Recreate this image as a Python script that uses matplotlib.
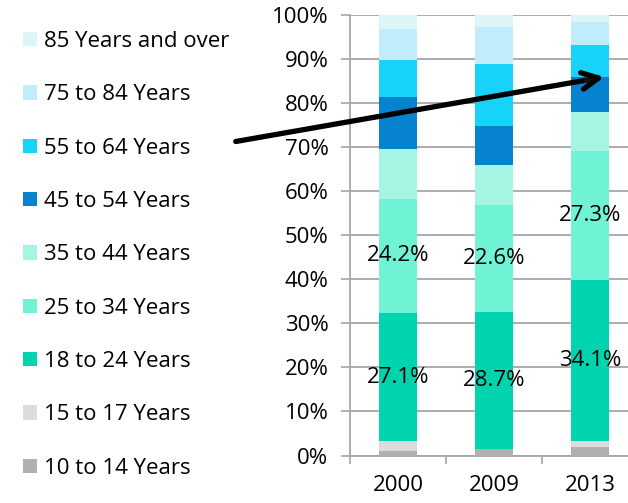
import matplotlib
matplotlib.use("Agg")
import matplotlib.pyplot as plt
import matplotlib.patheffects as pe
from matplotlib.patches import Patch, FancyArrowPatch
import numpy as np

plt.rcParams["font.family"] = ["Open Sans", "DejaVu Sans"]

# Share of each age group per survey year (percent)
years = ["2000", "2009", "2013"]
age_groups = [
    "10 to 14 Years",
    "15 to 17 Years",
    "18 to 24 Years",
    "25 to 34 Years",
    "35 to 44 Years",
    "45 to 54 Years",
    "55 to 64 Years",
    "75 to 84 Years",
    "85 Years and over",
]
age_10_14 = [1.0, 1.3, 1.9]
age_15_17 = [2.0, 0.1, 1.2]
age_18_24 = [27.1, 28.7, 34.1]
age_25_34 = [24.2, 22.6, 27.3]
age_35_44 = [10.4, 8.3, 8.2]
age_45_54 = [11.0, 8.2, 7.3]
age_55_64 = [7.9, 13.1, 6.9]
age_75_84 = [6.5, 7.6, 4.9]
age_85_up = [3.0, 2.6, 1.4]
series = [age_10_14, age_15_17, age_18_24, age_25_34, age_35_44,
          age_45_54, age_55_64, age_75_84, age_85_up]
colors = ["#b0b0b0", "#dcdcdc", "#00d4ae", "#6ff3d4", "#a6f5e3",
          "#0682ce", "#17d3f9", "#c1ecfb", "#def5f8"]
labelled = {"18 to 24 Years", "25 to 34 Years"}

y_ticks = [0, 10, 20, 30, 40, 50, 60, 70, 80, 90, 100]
y_tick_labels = ["0%", "10%", "20%", "30%", "40%", "50%", "60%",
                 "70%", "80%", "90%", "100%"]

FS = 16
W, H = 628, 503
fig = plt.figure(figsize=(W / 100, H / 100), dpi=100)
ax = fig.add_axes([350 / W, 1 - 455.5 / H, 288 / W, 440.5 / H])

values = np.array(series, dtype=float)
shares = values / values.sum(axis=0) * 100  # 100% stacked
x = np.arange(len(years))
bottom = np.zeros(len(years))
handles = []
for name, raw, share, col in zip(age_groups, values, shares, colors):
    ax.bar(x, share, 0.4, bottom=bottom, color=col, linewidth=0, zorder=3)
    handles.append(Patch(facecolor=col, label=name))
    if name in labelled:
        for xi, b, s, v in zip(x, bottom, share, raw):
            ax.text(xi, b + s / 2, f"{v:.1f}%", ha="center", va="center",
                    fontsize=FS, color="black", zorder=5)
    bottom += share

ax.set_xlim(-0.5, 2.5)
ax.set_ylim(0, 100)
ax.set_yticks(y_ticks)
ax.set_yticklabels(y_tick_labels, fontsize=FS)
ax.set_xticks(x)
ax.set_xticklabels(years, fontsize=FS)
ax.set_xticks([-0.5, 0.5, 1.5, 2.5], minor=True)
ax.tick_params(axis="x", which="major", length=0, pad=14)
ax.tick_params(axis="x", which="minor", length=6, width=1.2, color="#a6a6a6")
ax.tick_params(axis="y", length=6.5, width=1.2, color="#a6a6a6", pad=9)
ax.grid(axis="y", color="#a6a6a6", linewidth=1.3, zorder=0)
for side in ("top", "right"):
    ax.spines[side].set_visible(False)
for side in ("left", "bottom"):
    ax.spines[side].set_color("#a6a6a6")
    ax.spines[side].set_linewidth(1.3)

fig.legend(handles=handles[::-1], loc="upper left",
           bbox_to_anchor=(23 / W, 1 - 31 / H), frameon=False, fontsize=FS,
           handlelength=0.63, handleheight=0.63, handletextpad=0.3,
           labelspacing=1.455, borderaxespad=0, borderpad=0)

# Trend arrow
fig.add_artist(FancyArrowPatch(
    (233 / W, 1 - 142 / H), (607 / W, 1 - 76.5 / H),
    transform=fig.transFigure, arrowstyle="->", mutation_scale=30,
    linewidth=3.8, color="black", zorder=10,
    path_effects=[pe.SimplePatchShadow(offset=(1.5, -2), alpha=0.25),
                  pe.Normal()]))

fig.savefig("out.png", dpi=100)
